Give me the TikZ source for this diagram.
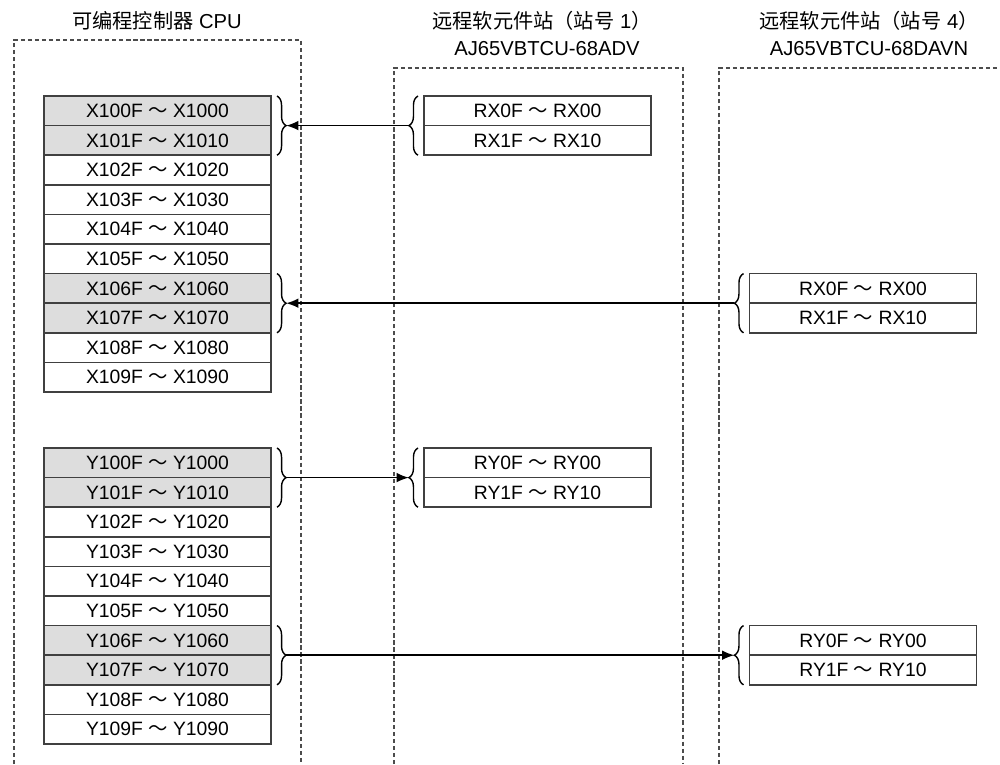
\documentclass[tikz,border=0pt]{standalone}
\usepackage{fontspec}
\setmainfont{Liberation Sans}
\newfontfamily\cjk{Noto Sans CJK SC}
\usetikzlibrary{calc,arrows.meta,decorations.pathreplacing}

\tikzset{
  cell/.style={draw=black!75, line width=1pt, minimum width=4.54cm,
    minimum height=0.592cm, inner sep=0pt, outer sep=0pt,
    font=\fontsize{11}{13}\selectfont},
  shaded/.style={cell, fill=gray!27},
  frame/.style={black!70, line width=0.6pt, dash pattern=on 2.4pt off 1.6pt},
  heading/.style={font=\fontsize{11.5}{14}\selectfont},
  bracket/.style={decorate, decoration={brace, amplitude=5.2pt}, line width=0.8pt},
  link/.style={-{Latex[length=7pt,width=5.5pt]}, line width=0.9pt},
}

\newcommand{\wave}{{\cjk ～}}

\begin{document}
\begin{tikzpicture}[x=0.02cm, y=-0.02cm]
    \useasboundingbox (0,0) rectangle (1000,764);

    % sizes in pixels of the layout
    \pgfmathsetmacro{\RowH}{29.6}   % height of one register row
    \pgfmathsetmacro{\Xtop}{96}     % top of the X table
    \pgfmathsetmacro{\Ytop}{448}    % top of the Y table
    \pgfmathsetmacro{\CpuX}{157.5}  % centre of the CPU tables
    \pgfmathsetmacro{\StaX}{537.5}  % centre of the station 1 tables
    \pgfmathsetmacro{\StbX}{863}    % centre of the station 4 tables

    % dashed frames
    \draw[frame] (14,764) -- (14,40) -- (301,40) -- (301,764);
    \draw[frame] (394,764) -- (394,68) -- (683,68) -- (683,764);
    \draw[frame] (719,764) -- (719,68) -- (1000,68);

    % headings
    \node[heading] (cputitle) at (157,21) {{\cjk 可编程控制器} CPU};
    \node[heading] (statitle) at (542,21) {{\cjk 远程软元件站（站号} 1{\cjk ）}};
    \node[heading] (stamodel) at (547,49) {AJ65VBTCU-68ADV};
    \node[heading] (stbtitle) at (869,21) {{\cjk 远程软元件站（站号} 4{\cjk ）}};
    \node[heading] (stbmodel) at (869,49) {AJ65VBTCU-68DAVN};

    % CPU registers
    \foreach \i/\st in {0/shaded,1/shaded,2/cell,3/cell,4/cell,5/cell,6/shaded,7/shaded,8/cell,9/cell} {
        \node[\st] (x\i) at (\CpuX, {\Xtop+(\i+0.5)*\RowH}) {X10\i F \wave{} X10\i 0};
        \node[\st] (y\i) at (\CpuX, {\Ytop+(\i+0.5)*\RowH}) {Y10\i F \wave{} Y10\i 0};
    }

    % station registers
    \foreach \i/\r in {0/0,1/1} {
        \node[cell] (rxa\i) at (\StaX, {\Xtop+(\r+0.5)*\RowH}) {RX\i F \wave{} RX\i 0};
        \node[cell] (rya\i) at (\StaX, {\Ytop+(\r+0.5)*\RowH}) {RY\i F \wave{} RY\i 0};
    }
    \foreach \i/\r in {0/6,1/7} {
        \node[cell] (rxb\i) at (\StbX, {\Xtop+(\r+0.5)*\RowH}) {RX\i F \wave{} RX\i 0};
        \node[cell] (ryb\i) at (\StbX, {\Ytop+(\r+0.5)*\RowH}) {RY\i F \wave{} RY\i 0};
    }

    % braces on the CPU side (tip to the right)
    \draw[bracket] ([xshift=0.12cm]x0.north east) -- ([xshift=0.12cm]x1.south east);
    \draw[bracket] ([xshift=0.12cm]x6.north east) -- ([xshift=0.12cm]x7.south east);
    \draw[bracket] ([xshift=0.12cm]y0.north east) -- ([xshift=0.12cm]y1.south east);
    \draw[bracket] ([xshift=0.12cm]y6.north east) -- ([xshift=0.12cm]y7.south east);
    \coordinate (cxa) at ($(x0.north east)!0.5!(x1.south east)+(0.12cm+5.2pt,0)$);
    \coordinate (cxb) at ($(x6.north east)!0.5!(x7.south east)+(0.12cm+5.2pt,0)$);
    \coordinate (cya) at ($(y0.north east)!0.5!(y1.south east)+(0.12cm+5.2pt,0)$);
    \coordinate (cyb) at ($(y6.north east)!0.5!(y7.south east)+(0.12cm+5.2pt,0)$);

    % braces on the station side (tip to the left)
    \draw[bracket] ([xshift=-0.12cm]rxa1.south west) -- ([xshift=-0.12cm]rxa0.north west);
    \draw[bracket] ([xshift=-0.12cm]rya1.south west) -- ([xshift=-0.12cm]rya0.north west);
    \draw[bracket] ([xshift=-0.12cm]rxb1.south west) -- ([xshift=-0.12cm]rxb0.north west);
    \draw[bracket] ([xshift=-0.12cm]ryb1.south west) -- ([xshift=-0.12cm]ryb0.north west);
    \coordinate (sxa) at ($(rxa0.north west)!0.5!(rxa1.south west)-(0.12cm+5.2pt,0)$);
    \coordinate (sya) at ($(rya0.north west)!0.5!(rya1.south west)-(0.12cm+5.2pt,0)$);
    \coordinate (sxb) at ($(rxb0.north west)!0.5!(rxb1.south west)-(0.12cm+5.2pt,0)$);
    \coordinate (syb) at ($(ryb0.north west)!0.5!(ryb1.south west)-(0.12cm+5.2pt,0)$);

    % transfers
    \draw[link] (sxa) -- (cxa);
    \draw[link] (sxb) -- (cxb);
    \draw[link] (cya) -- (sya);
    \draw[link] (cyb) -- (syb);

\end{tikzpicture}
\end{document}
